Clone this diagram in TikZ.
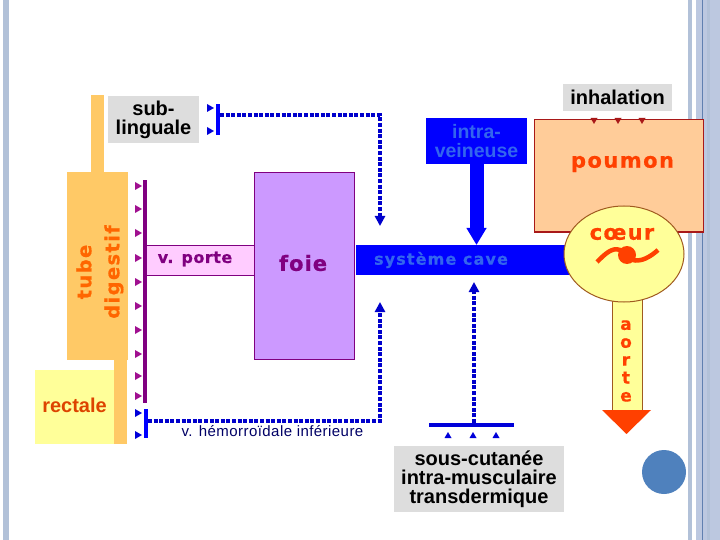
\documentclass[tikz,border=0pt]{standalone}
\usepackage{fontspec}
\setmainfont{Liberation Sans}
\newfontfamily\wide{DejaVu Sans}
\usetikzlibrary{arrows.meta,shapes.geometric}
\definecolor{orangefill}{HTML}{FFC966}
\definecolor{yellowfill}{HTML}{FFFF99}
\definecolor{greyfill}{HTML}{DDDDDD}
\definecolor{purp}{HTML}{800080}
\definecolor{magen}{HTML}{A01090}
\definecolor{bluetext}{HTML}{3366EE}
\definecolor{dotblue}{HTML}{0000CC}
\definecolor{redtext}{HTML}{FF4000}
\definecolor{stripe}{HTML}{B2C1D8}
\definecolor{stripeb}{HTML}{BCC8E0}
\definecolor{stripec}{HTML}{6080B0}
\definecolor{brownline}{HTML}{A05A20}
\definecolor{pinkfill}{HTML}{FFCCFF}
\definecolor{lilac}{HTML}{CC99FF}
\definecolor{peach}{HTML}{FFCC99}
\definecolor{darkred}{HTML}{A81818}
\definecolor{dotcol}{HTML}{4F81BD}
\definecolor{thintext}{HTML}{000066}
\definecolor{tubetext}{HTML}{FF6600}
\definecolor{rectext}{HTML}{DD4400}
\newcommand{\widefont}[3]{\wide\bfseries\fontsize{#1}{#2}\selectfont\addfontfeature{LetterSpace=#3,FakeBold=0.6}}
\newcommand{\labelfont}{\bfseries\fontsize{20}{19}\selectfont}
\tikzset{
  plain/.style={inner sep=0pt,outer sep=0pt,rectangle},
  greybox/.style={plain,fill=greyfill,align=center,text=black,font=\labelfont},
  orange/.style={plain,fill=orangefill},
  dotted line/.style={draw=dotblue,line width=4pt,dash pattern=on 4pt off 1.6pt},
  dothead/.style={-{Triangle[length=10pt,width=10pt]}},
}
\newcommand{\trir}[3]{\fill[#1] (#2,#3-4) -- (#2+7,#3) -- (#2,#3+4) -- cycle;}
\newcommand{\trid}[3]{\fill[#1] (#2-3.5,#3) -- (#2+3.5,#3) -- (#2,#3+6) -- cycle;}
\newcommand{\triu}[3]{\fill[#1] (#2-3.5,#3) -- (#2+3.5,#3) -- (#2,#3-6) -- cycle;}
\begin{document}
\begin{tikzpicture}[x=1pt,y=-1pt]
\useasboundingbox (0,0) rectangle (720,540);
\fill[white] (0,0) rectangle (720,540);
% slide decoration
\fill[stripe] (3,0) rectangle (9,540);
\fill[stripe] (688,0) rectangle (692,540);
\fill[stripeb] (696,0) rectangle (720,540);
\fill[stripe] (707,0) rectangle (710,540);
\fill[stripec] (701.5,0) rectangle (702.8,540);
% digestive tube
\node[orange,minimum width=13pt,minimum height=78pt] (oesophage) at (97.5,134) {};
\node[orange,minimum width=61pt,minimum height=188pt] (tube) at (97.5,266) {};
\node[orange,minimum width=13pt,minimum height=84pt] (anus) at (120.5,402) {};
\node[plain,fill=yellowfill,minimum width=79pt,minimum height=74pt] (rectale) at (74.5,407) {};
\node[plain,text=rectext,font=\bfseries\fontsize{20}{20}\selectfont] (rectaletxt) at (74.5,405) {rectale};
\node[plain,rotate=90,align=center,text=tubetext,font=\widefont{19.5}{28}{7}] (tubetxt) at (100,272) {tube\\digestif};
\node[greybox,minimum width=91pt,minimum height=47pt] (sub) at (153.5,119.5) {sub-\\linguale};
% sublingual branch
\fill[blue] (216,104) rectangle (220,135);
\coordinate (subbar) at (220,115);
\trir{blue!85!black}{207}{108}
\trir{blue!85!black}{207}{131}
% portal vein
\node[plain,fill=pinkfill,draw=purp,line width=1pt,minimum width=108pt,minimum height=30pt] (porte) at (200.5,260) {};
\node[plain,text=purp,font=\widefont{16}{16}{3}] (portetxt) at (195,259) {v. porte};
\node[plain,fill=lilac,draw=purp,line width=1pt,minimum width=100pt,minimum height=186pt] (foie) at (304.5,266) {};
\node[plain,text=purp,font=\widefont{21}{21}{5}] (foietxt) at (303,263) {foie};
\fill[purp] (143,180) rectangle (147,403);
\foreach \yy in {186,209,233,258,282,306,330,354,376,396} {\trir{magen}{135}{\yy}}
% hemorrhoidal branch
\fill[blue] (144,409) rectangle (148,438);
\coordinate (hembar) at (148,421);
\trir{blue!85!black}{135}{413}
\trir{blue!85!black}{135}{435}
\node[plain,font=\fontsize{15}{15}\selectfont\addfontfeature{LetterSpace=3},text=thintext] (hemtxt) at (272.5,431) {v. hémorroïdale inférieure};
% cave
\node[plain,fill=blue,minimum width=215pt,minimum height=30pt] (cave) at (463,260) {};
\node[plain,text=bluetext,font=\widefont{16}{16}{7}] (cavetxt) at (441,260) {système cave};
\node[plain,fill=blue,text=bluetext,minimum width=101pt,minimum height=46pt,align=center,font=\bfseries\fontsize{19.5}{19}\selectfont] (intra) at (476.5,141) {intra-\\veineuse};
\draw[blue,line width=14pt,-{Triangle[length=17pt,width=19pt]}] (intra.south) -- (intra.south |- cave.north);
% lung
\node[plain,fill=peach,draw=darkred,line width=1pt,minimum width=169pt,minimum height=112pt] (poumon) at (618.5,176) {};
\node[plain,text=redtext,font=\widefont{21}{21}{7}] (poumontxt) at (622.5,164) {poumon};
\node[greybox,minimum width=109pt,minimum height=27pt] (inhal) at (617.5,97.5) {inhalation};
\foreach \xx in {594,618,642} {\trid{darkred}{\xx}{118}}
% aorta
\node[plain,fill=yellowfill,draw=brownline,line width=1pt,minimum width=30pt,minimum height=112pt] (aorte) at (627,354) {};
\coordinate (aorteL) at (602,410);
\coordinate (aorteR) at (651,410);
\coordinate (aorteT) at (626.5,434);
\fill[redtext] (aorteL) -- (aorteR) -- (aorteT) -- cycle;
\node[plain,text=redtext,align=center,font=\widefont{17}{17.9}{0}] (aortetxt) at (626,361) {a\\o\\r\\t\\e};
% heart
\node[plain,ellipse,fill=yellowfill,draw=brownline,line width=1pt,minimum width=120pt,minimum height=96pt] (coeur) at (624,254) {};
\node[plain,text=redtext,font=\widefont{21}{21}{6}] (coeurtxt) at (622,234) {cœur};
\draw[redtext,line width=4.5pt] (597,262) .. controls (605,254) and (612,247) .. (620,250) .. controls (628,262) and (640,266) .. (658,250);
\fill[redtext] (627,255) circle[radius=9];
% bottom group
\node[greybox,minimum width=170pt,minimum height=66pt] (souscut) at (479,479) {sous-cutanée\\intra-musculaire\\transdermique};
\fill[blue!85!black] (429,423) rectangle (514,427);
\coordinate (barre) at (474,423);
\foreach \xx in {448,473,496} {\triu{blue!85!black}{\xx}{438}}
% dotted connectors
\coordinate (portedot) at (380,226);
\coordinate (hemdot) at (380,302);
\coordinate (cavedot) at (474,282);
\draw[dotted line,dothead] (subbar) -| (portedot);
\draw[dotted line,dothead] (hembar) -| (hemdot);
\draw[dotted line,dothead] (barre) -- (cavedot);
% slide dot
\fill[dotcol] (664,472) circle[radius=22];
\end{tikzpicture}
\end{document}
